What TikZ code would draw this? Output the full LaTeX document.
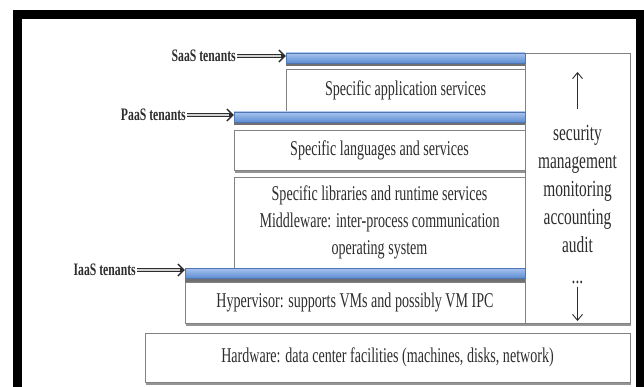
\documentclass[tikz,border=0pt]{standalone}
\usepackage{fontspec}
\setmainfont[FakeStretch=0.67]{Liberation Serif}
\usepackage{tikz}
\usetikzlibrary{arrows.meta,shadows}
\definecolor{barblue}{RGB}{98,148,222}
\definecolor{edgegray}{RGB}{130,130,130}
\definecolor{inkgray}{RGB}{45,45,45}

\begin{document}
\begin{tikzpicture}[x=1pt,y=-1pt,
	layer/.style={draw=edgegray, line width=0.9pt, fill=white, inner sep=0pt, text=inkgray, font=\fontsize{21}{27}\selectfont, align=center, drop shadow={shadow xshift=0.6pt, shadow yshift=-2.6pt, opacity=0.7, fill=gray!80!black}},
	bar/.style={draw=barblue!80!black, line width=0.5pt, top color=barblue!55!white, bottom color=barblue!95!black, inner sep=0pt, minimum height=10pt, drop shadow={shadow xshift=0pt, shadow yshift=-3.5pt, opacity=0.8, fill=gray!60!black}},
	tenant/.style={anchor=east, inner sep=1pt, text=inkgray, font=\bfseries\fontsize{17.5}{18}\selectfont},
	push/.style={draw=inkgray, line width=3.6pt, -{Straight Barb[length=6pt,width=12pt,line width=1.4pt]}, postaction={draw=gray!35, line width=1.4pt, -, shorten >=5pt}},
	tick/.style={draw=inkgray, line width=0.9pt, -{Straight Barb[length=6pt,width=10pt]}},
	duty/.style={text=inkgray, align=center, font=\fontsize{23}{28}\selectfont}
	]
	\useasboundingbox (0,0) rectangle (644,387);
	\clip (0,0) rectangle (644,387);
	\draw[line width=9pt] (17.5,15) rectangle (640.5,420);
	\node[layer, minimum width=105pt, minimum height=270pt] (mgmt) at (577.5,188) {};
	\node[layer, minimum width=485pt, minimum height=49pt] (hw) at (387.5,357.5) {Hardware: data center facilities (machines, disks, network)};
	\node[layer, minimum width=340pt, minimum height=41pt] (hyp) at (355,302.5) {Hypervisor: supports VMs and possibly VM IPC};
	\node[layer, minimum width=291pt, minimum height=91pt] (libs) at (379.5,222.5) {Specific libraries and runtime services\\Middleware: inter-process communication\\operating system};
	\node[layer, minimum width=291pt, minimum height=40pt] (lang) at (379.5,150) {Specific languages and services};
	\node[layer, minimum width=239pt, minimum height=43pt] (app) at (405.5,90.5) {Specific application services};
	\node[bar, minimum width=340pt] (iaas) at (355,273) {};
	\node[bar, minimum width=291pt] (paas) at (379.5,117) {};
	\node[bar, minimum width=239pt] (saas) at (405.5,58) {};
	\node[tenant] (saasl) at (237,56) {SaaS tenants};
	\node[tenant] (paasl) at (187,115) {PaaS tenants};
	\node[tenant] (iaasl) at (137,270) {IaaS tenants};
	\draw[push] (saasl.east) -- (saasl.east -| saas.west);
	\draw[push] (paasl.east) -- (paasl.east -| paas.west);
	\draw[push] (iaasl.east) -- (iaasl.east -| iaas.west);
	\node[duty] (duties) at (577.5,188.5) {security\\management\\monitoring\\accounting\\audit};
	\node[duty] (dots) at (577.5,282) {...};
	\coordinate (uptip) at (577.5,72);
	\coordinate (downtip) at (577.5,321);
	\draw[tick] ([yshift=12pt]duties.north) -- (uptip);
	\draw[tick] (dots.south) -- (downtip);
\end{tikzpicture}
\end{document}
